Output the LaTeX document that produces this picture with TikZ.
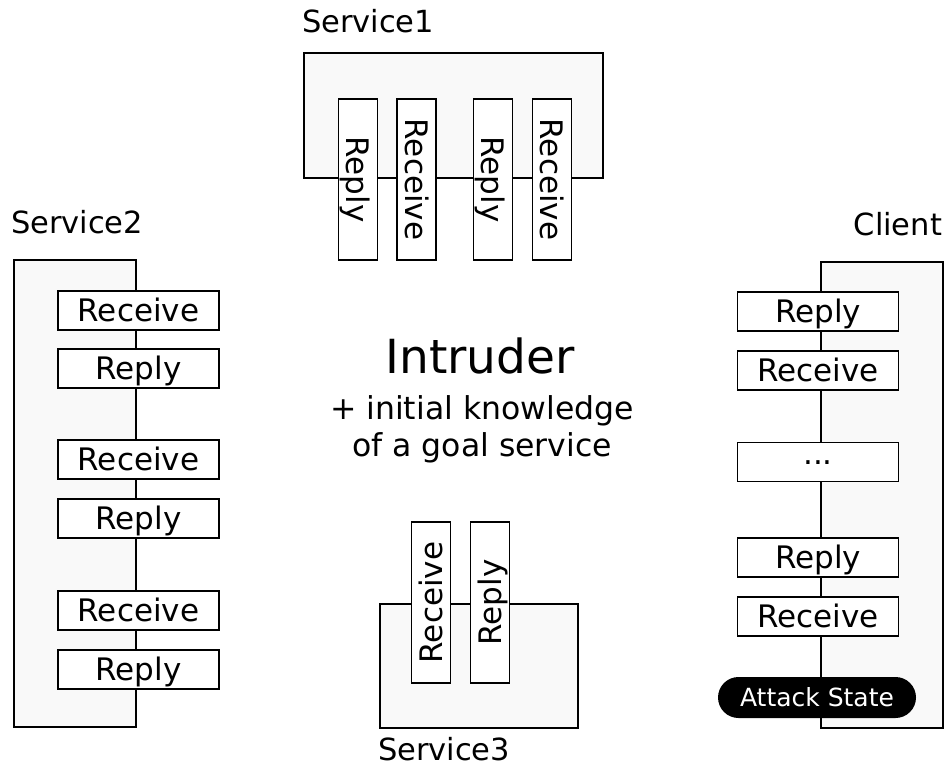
\documentclass[tikz,border=0pt]{standalone}
\usepackage{fontspec}
\setmainfont{DejaVu Sans}
\begin{document}
\begin{tikzpicture}[x=1pt,y=-1pt,
  every node/.style={inner sep=0pt, outer sep=0pt},
  container/.style={draw=black, line width=2.2pt, fill=gray!5},
  msg/.style={draw=black, line width=1.8pt, fill=white,
    font=\fontsize{31}{37}\selectfont, text height=22.5pt, text depth=0pt,
    minimum width=161pt, minimum height=39pt},
  title/.style={font=\fontsize{30.5}{36}\selectfont},
  subtitle/.style={font=\fontsize{31.5}{37}\selectfont},
  goal/.style={fill=black, text=white, rounded corners=20.5pt,
    font=\fontsize{25}{30}\selectfont, text height=18.3pt, text depth=0pt,
    minimum width=198pt, minimum height=41pt}]
\useasboundingbox (0,0) rectangle (947,767);

% Service1: container with four vertical message boxes
\node[title, anchor=base west] (s1label) at (302,33) {Service1};
\draw[container] (304,53) rectangle (603,178);
\node[msg, rotate=-90] (s1a) at (358,179.5) {Reply};
\node[msg, rotate=-90] (s1b) at (416.5,179.5) {Receive};
\node[msg, rotate=-90] (s1c) at (493,179.5) {Reply};
\node[msg, rotate=-90] (s1d) at (552,179.5) {Receive};

% Service2: tall container on the left
\node[title, anchor=base west] (s2label) at (11,234) {Service2};
\draw[container] (14,260) rectangle (136,727);
\node[msg] (s2a) at (138.5,310.5) {Receive};
\node[msg] (s2b) at (138.5,368.5) {Reply};
\node[msg] (s2c) at (138.5,459.5) {Receive};
\node[msg] (s2d) at (138.5,518.5) {Reply};
\node[msg] (s2e) at (138.5,610.5) {Receive};
\node[msg] (s2f) at (138.5,669.5) {Reply};

% Client: tall container on the right
\node[title, anchor=base east] (clabel) at (942,236) {Client};
\draw[container] (821,262) rectangle (943,728);
\node[msg] (ca) at (818,311.5) {Reply};
\node[msg] (cb) at (818,370.5) {Receive};
\node[msg, text height=4pt] (cc) at (818,462) {...};
\node[msg] (cd) at (818,557.5) {Reply};
\node[msg] (ce) at (818,616.5) {Receive};
\node[goal] (attack) at (817,697.5) {Attack State};

% Service3: container at the bottom
\draw[container] (380,604) rectangle (578,728);
\node[msg, rotate=90] (s3a) at (431,602.5) {Receive};
\node[msg, rotate=90] (s3b) at (490,602.5) {Reply};
\node[title, anchor=base west] (s3label) at (378,760) {Service3};

% Intruder in the middle
\node[font=\fontsize{47}{56}\selectfont, anchor=base] (intruder) at (480,373) {Intruder};
\node[subtitle, anchor=base] (know1) at (482,419) {+ initial knowledge};
\node[subtitle, anchor=base] (know2) at (482,456) {of a goal service};
\end{tikzpicture}
\end{document}
